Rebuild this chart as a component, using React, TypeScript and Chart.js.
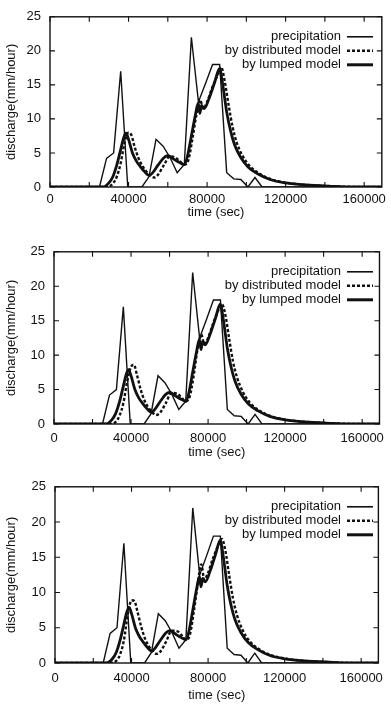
import React, { useEffect, useRef } from 'react';
import { Chart, registerables } from 'chart.js';

Chart.register(...registerables);

// ---------- data ----------
const seriesLabels = ['precipitation', 'by distributed model', 'by lumped model'];
const xTitle = 'time (sec)';
const yTitle = 'discharge(mm/hour)';
const xLabelTicks = [0, 40000, 80000, 120000, 160000];
const xMarkTicks = [0, 20000, 40000, 60000, 80000, 100000, 120000, 140000, 160000];
const yTickValues = [0, 5, 10, 15, 20, 25];

const precipTime = [0, 25200, 28800, 32400, 36000, 39600, 46800, 50400, 54000, 57600, 61200, 64800, 68400, 72000, 75600, 79200, 82800, 86400, 90000, 93600, 97200, 100800, 104400, 108000, 169000];
const precipValue = [0, 0, 4.2, 5, 17, 0, 0, 1.5, 7, 6, 4.3, 2.1, 3.3, 22, 12.5, 15.2, 18, 18, 2.1, 1.2, 1.1, 0, 1.4, 0, 0];

const lumpedTime = [0, 27000, 30000, 32000, 34000, 36000, 37500, 38700, 40000, 42000, 44000, 46000, 48000, 50500, 52000, 55000, 58000, 60000, 63000, 66000, 68500, 70000, 72000, 74000, 75500, 76300, 77200, 78500, 81000, 84000, 86300, 88000, 90000, 92000, 94000, 97000, 101000, 106000, 112000, 120000, 130000, 145000, 155000, 169000];
const lumpedValue = [0, 0, 0.6, 1.5, 3.2, 5.5, 7.2, 7.9, 7.0, 5.0, 3.8, 3.0, 2.3, 1.7, 2.0, 3.2, 4.3, 4.6, 4.1, 3.6, 3.3, 4.5, 7.5, 10.5, 12.3, 10.8, 12, 11.5, 13, 15.5, 17.4, 15, 11, 8.2, 6.2, 4.4, 2.9, 1.9, 1.1, 0.6, 0.3, 0.1, 0, 0];

const distTime = [0, 29000, 32000, 34000, 36000, 38000, 40000, 41500, 43000, 45000, 47000, 49000, 51000, 53000, 55000, 58000, 61000, 64000, 66000, 68500, 70500, 72500, 74500, 76500, 78000, 80000, 82500, 85000, 87200, 89000, 91000, 93000, 95000, 98000, 102000, 107000, 113000, 121000, 131000, 145000, 158000, 169000];
const distValue1 = [0, 0, 0.5, 1.5, 3.5, 6.5, 8.0, 7.6, 6.0, 4.3, 3.1, 2.3, 1.7, 1.4, 1.8, 3.2, 4.5, 4.3, 3.8, 3.3, 4.0, 7.0, 10.5, 12.8, 11.5, 12.5, 14.5, 16.2, 17.6, 15.5, 12, 8.8, 6.6, 4.6, 3.0, 1.9, 1.1, 0.6, 0.3, 0.1, 0, 0];
const distValue2 = [0, 0, 0.3, 1.2, 3.0, 6.2, 8.3, 8.6, 7.2, 5.0, 3.4, 2.4, 1.7, 1.3, 1.6, 3.0, 4.5, 4.4, 3.9, 3.3, 4.0, 7.0, 10.8, 13.0, 11.6, 12.5, 14.5, 16.3, 17.4, 15.8, 12.3, 9.0, 6.8, 4.7, 3.0, 1.9, 1.1, 0.6, 0.3, 0.1, 0, 0];
const distValue3 = [0, 0, 0.3, 1.2, 3.2, 6.8, 8.9, 8.8, 7.4, 5.2, 3.5, 2.4, 1.7, 1.3, 1.6, 3.0, 4.6, 4.5, 4.0, 3.3, 4.0, 7.2, 11.0, 14.0, 11.8, 12.8, 14.8, 16.5, 17.6, 16.0, 12.5, 9.2, 6.9, 4.7, 3.0, 1.9, 1.1, 0.6, 0.3, 0.1, 0, 0];

const xMin = 0;
const xMax = 169000;
const yMin = 0;
const yMax = 25;

// ---------- layout (positions, not data) ----------
const panels = [
  { top: 0, areaTop: 7, areaLeft: 50, areaBottom: 187, labelPad: 5, titleGap: 25, dist: distValue1 },
  { top: 235, areaTop: 10, areaLeft: 54, areaBottom: 189, labelPad: 7, titleGap: 28, dist: distValue2 },
  { top: 470, areaTop: 14, areaLeft: 55, areaBottom: 193, labelPad: 8, titleGap: 32, dist: distValue3 },
];
const CANVAS_W = 391;
const CANVAS_H = 235;
const INK = '#111';
const FONT = "'Liberation Sans', Arial, Helvetica, sans-serif";

const toXY = (t: number[], v: number[]) => t.map((x, i) => ({ x, y: v[i] }));

const framePlugin = {
  id: 'frameTicks',
  afterDatasetsDraw(chart: any) {
    const { ctx, chartArea: a, scales } = chart;
    ctx.save();
    ctx.strokeStyle = INK;
    ctx.lineWidth = 1.4;
    ctx.strokeRect(a.left, a.top, a.right - a.left, a.bottom - a.top);
    ctx.lineWidth = 1.1;
    ctx.beginPath();
    for (const v of xMarkTicks) {
      const px = scales.x.getPixelForValue(v);
      ctx.moveTo(px, a.bottom);
      ctx.lineTo(px, a.bottom - 5);
      ctx.moveTo(px, a.top);
      ctx.lineTo(px, a.top + 5);
    }
    for (const v of yTickValues) {
      const py = scales.y.getPixelForValue(v);
      ctx.moveTo(a.left, py);
      ctx.lineTo(a.left + 5, py);
      ctx.moveTo(a.right, py);
      ctx.lineTo(a.right - 5, py);
    }
    ctx.stroke();
    ctx.restore();
  },
};

const legendPlugin = {
  id: 'rightLegend',
  afterDraw(chart: any) {
    const { ctx, chartArea: a } = chart;
    const textRight = 341;
    const sampleL = 347;
    const sampleR = 373;
    ctx.save();
    ctx.font = `13px ${FONT}`;
    ctx.fillStyle = INK;
    ctx.textAlign = 'right';
    ctx.textBaseline = 'middle';
    chart.data.datasets.forEach((ds: any, i: number) => {
      const y = a.top + 20 + i * 14;
      ctx.fillText(ds.label, textRight, y);
      ctx.beginPath();
      ctx.strokeStyle = INK;
      ctx.lineWidth = i === 0 ? 1.6 : i === 1 ? 2.4 : 3;
      ctx.setLineDash(i === 1 ? [3, 2] : []);
      ctx.moveTo(sampleL, y);
      ctx.lineTo(sampleR, y);
      ctx.stroke();
      ctx.setLineDash([]);
    });
    ctx.restore();
  },
};

function Panel({ p }: { p: typeof panels[number] }) {
  const ref = useRef<HTMLCanvasElement | null>(null);
  useEffect(() => {
    if (!ref.current) return;
    const xAxisH = CANVAS_H - p.areaBottom;
    const titlePadBottom = Math.max(0, xAxisH - p.titleGap - 7.8);
    const chart = new Chart(ref.current, {
      type: 'line',
      data: {
        datasets: [
          {
            label: seriesLabels[0],
            data: toXY(precipTime, precipValue),
            borderColor: INK,
            borderWidth: 1.4,
            pointRadius: 0,
            tension: 0,
            fill: false,
          },
          {
            label: seriesLabels[1],
            data: toXY(distTime, p.dist),
            borderColor: INK,
            borderWidth: 2.4,
            borderDash: [3, 2],
            pointRadius: 0,
            cubicInterpolationMode: 'monotone',
            fill: false,
          },
          {
            label: seriesLabels[2],
            data: toXY(lumpedTime, lumpedValue),
            borderColor: INK,
            borderWidth: 2.8,
            pointRadius: 0,
            cubicInterpolationMode: 'monotone',
            fill: false,
          },
        ],
      },
      options: {
        animation: false,
        responsive: false,
        parsing: false as any,
        layout: { padding: { top: p.areaTop, right: CANVAS_W - 388, left: 0, bottom: 0 } },
        plugins: { legend: { display: false }, tooltip: { enabled: false } },
        scales: {
          x: {
            type: 'linear',
            min: xMin,
            max: xMax,
            afterBuildTicks: (s: any) => {
              s.ticks = xLabelTicks.map((v) => ({ value: v }));
            },
            afterFit: (s: any) => {
              s.height = xAxisH;
            },
            grid: { display: false, drawTicks: false },
            border: { display: false },
            ticks: {
              color: INK,
              font: { family: FONT, size: 13 },
              padding: p.labelPad,
              maxRotation: 0,
              autoSkip: false,
              callback: (v: any) => String(v),
            },
            title: {
              display: true,
              text: xTitle,
              color: INK,
              font: { family: FONT, size: 13 },
              padding: { top: 0, bottom: titlePadBottom },
            },
          },
          y: {
            type: 'linear',
            min: yMin,
            max: yMax,
            afterBuildTicks: (s: any) => {
              s.ticks = yTickValues.map((v) => ({ value: v }));
            },
            afterFit: (s: any) => {
              s.width = p.areaLeft;
            },
            grid: { display: false, drawTicks: false },
            border: { display: false },
            ticks: {
              color: INK,
              font: { family: FONT, size: 13 },
              padding: 9,
              callback: (v: any) => String(v),
            },
            title: {
              display: true,
              text: yTitle,
              color: INK,
              font: { family: FONT, size: 13 },
              padding: { top: 4, bottom: 0 },
            },
          },
        },
      },
      plugins: [framePlugin, legendPlugin],
    } as any);
    return () => chart.destroy();
  }, [p]);
  return (
    <canvas
      ref={ref}
      width={CANVAS_W}
      height={CANVAS_H}
      style={{ position: 'absolute', left: 0, top: p.top, width: CANVAS_W, height: CANVAS_H }}
    />
  );
}

export default function App() {
  return (
    <div style={{ position: 'absolute', left: 0, top: 0, width: CANVAS_W, height: 709, background: '#fff' }}>
      {panels.map((p, i) => (
        <Panel key={i} p={p} />
      ))}
    </div>
  );
}
